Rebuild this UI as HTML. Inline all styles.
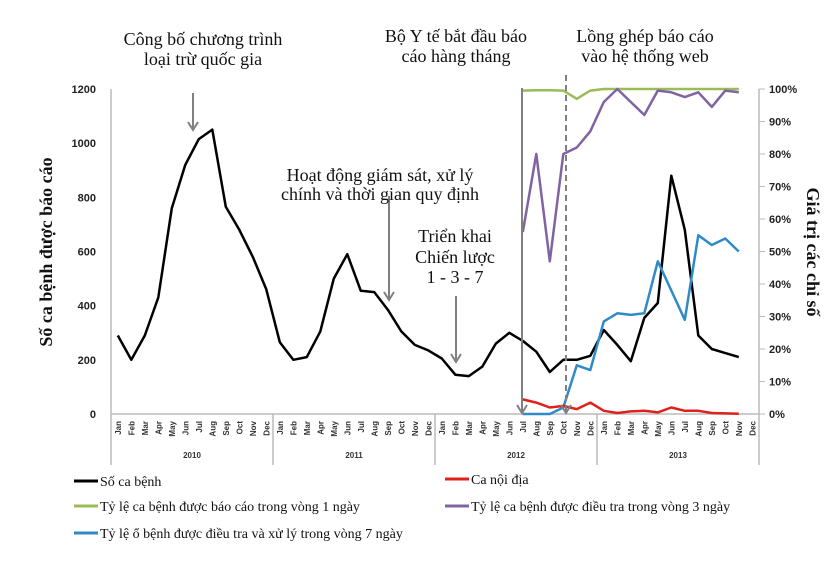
<!DOCTYPE html>
<html><head><meta charset="utf-8"><style>
body{margin:0;background:#fff;width:830px;height:563px;overflow:hidden}
svg{display:block}
.ann{font-family:"Liberation Serif",serif;font-size:18px;fill:#111}
.tk{font-family:"Liberation Sans",sans-serif;font-size:11px;font-weight:bold;fill:#222}
.mo{font-family:"Liberation Sans",sans-serif;font-size:8px;font-weight:bold;fill:#333}
.lg{font-family:"Liberation Serif",serif;font-size:14px;fill:#111}
</style></head><body>
<svg id="s" width="830" height="563" xmlns="http://www.w3.org/2000/svg">
<defs><marker id="ah" markerWidth="12" markerHeight="12" refX="9" refY="6" orient="auto" markerUnits="userSpaceOnUse"><path d="M1,1 L9,6 L1,11" fill="none" stroke="#808080" stroke-width="2"/></marker></defs>
<g id="g"></g>
<text class="ann" x="203" y="45" text-anchor="middle">Công bố chương trình</text>
<text class="ann" x="203" y="65" text-anchor="middle">loại trừ quốc gia</text>
<text class="ann" x="456" y="42" text-anchor="middle">Bộ Y tế bắt đầu báo</text>
<text class="ann" x="456" y="62" text-anchor="middle">cáo hàng tháng</text>
<text class="ann" x="645" y="42" text-anchor="middle">Lồng ghép báo cáo</text>
<text class="ann" x="645" y="62" text-anchor="middle">vào hệ thống web</text>
<text class="ann" x="380" y="181" text-anchor="middle">Hoạt động giám sát, xử lý</text>
<text class="ann" x="380" y="200" text-anchor="middle">chính và thời gian quy định</text>
<text class="ann" x="455" y="242" text-anchor="middle">Triển khai</text>
<text class="ann" x="455" y="263" text-anchor="middle">Chiến lược</text>
<text class="ann" x="455" y="283" text-anchor="middle">1 - 3 - 7</text>
<text class="ann" transform="translate(52,252) rotate(-90)" text-anchor="middle" font-weight="bold" font-size="17">Số ca bệnh được báo cáo</text>
<text class="ann" transform="translate(807,252) rotate(90)" text-anchor="middle" font-weight="bold" font-size="17">Giá trị các chỉ số</text>
</svg>
<script>
var g=document.getElementById('g'),ns='http://www.w3.org/2000/svg';
function el(t,a,txt){var e=document.createElementNS(ns,t);for(var k in a)e.setAttribute(k,a[k]);if(txt!=null)e.textContent=txt;g.appendChild(e);return e;}
var x0=111,mw=13.5,yb=414,yt=89;
function X(i){return x0+mw*(i+0.5);}
function YL(v){return yb-(yb-yt)*v/1200;}
function YR(p){return yb-(yb-yt)*p/100;}
el('line',{x1:x0,y1:yt,x2:x0,y2:yb,stroke:'#bbb','stroke-width':1.5});
el('line',{x1:759,y1:yt,x2:759,y2:yb,stroke:'#bbb','stroke-width':1.5});
el('line',{x1:x0,y1:yb,x2:759,y2:yb,stroke:'#bbb','stroke-width':1.5});
for(var v=0;v<=1200;v+=200){el('text',{class:'tk',x:96,y:YL(v)+4,'text-anchor':'end'},v);}
for(var p=0;p<=100;p+=10){el('line',{x1:759,y1:YR(p),x2:765,y2:YR(p),stroke:'#bbb'});el('text',{class:'tk',x:769,y:YR(p)+4},p+'%');}
var m=['Jan','Feb','Mar','Apr','May','Jun','Jul','Aug','Sep','Oct','Nov','Dec'];
for(var i=0;i<48;i++){el('text',{class:'mo',transform:'translate('+(X(i)+3)+',421) rotate(-90)','text-anchor':'end'},m[i%12]);}
for(var y=0;y<=4;y++){var xx=x0+162*y;el('line',{x1:xx,y1:yb,x2:xx,y2:465,stroke:'#bbb','stroke-width':1.5});if(y<4)el('text',{class:'mo',x:xx+81,y:458,'text-anchor':'middle','font-size':'9'},2010+y);}
function line(vals,start,f,col,w){var pts=[];for(var i=0;i<vals.length;i++)pts.push(X(start+i).toFixed(1)+','+f(vals[i]).toFixed(1));el('polyline',{points:pts.join(' '),fill:'none',stroke:col,'stroke-width':w,'stroke-linejoin':'round'});}
line([290,200,290,430,760,920,1015,1050,765,680,580,460,265,200,210,305,500,590,455,450,385,305,255,235,205,145,140,175,260,300,270,230,155,200,200,215,310,255,195,355,410,880,680,290,240,225,210],0,YL,'#000',2.5);
line([99.5,99.6,99.6,99.5,97,99.5,100,100,100,100,100,100,100,100,100,100,100],30,YR,'#9bbb59',2.5);
line([56,80,47,80,82,87,96,100,96,92,99.5,99,97.5,99,94.5,99.5,99],30,YR,'#8064a2',2.5);
line([0,0,0,2,15,13.5,28.5,31,30.5,31,47,38,29,55,52,54,50],30,YR,'#2e8bc8',2.5);
line([4.5,3.5,2,2.5,1.5,3.5,1,0.3,0.8,1,0.5,2,1,1,0.3,0.2,0.1],30,YR,'#e0201a',2.5);
el('line',{x1:522,y1:88,x2:522,y2:413,stroke:'#808080','stroke-width':2,'marker-end':'url(#ah)'});
el('line',{x1:566,y1:75,x2:566,y2:413,stroke:'#808080','stroke-width':2,'stroke-dasharray':'6,4','marker-end':'url(#ah)'});
el('line',{x1:193,y1:93,x2:193,y2:130,stroke:'#808080','stroke-width':2,'marker-end':'url(#ah)'});
el('line',{x1:389,y1:196,x2:389,y2:300,stroke:'#808080','stroke-width':2,'marker-end':'url(#ah)'});
el('line',{x1:456,y1:296,x2:456,y2:362,stroke:'#808080','stroke-width':2,'marker-end':'url(#ah)'});
function lg(x,y,col,t){el('line',{x1:x,y1:y,x2:x+24,y2:y,stroke:col,'stroke-width':3});el('text',{class:'lg',x:x+26,y:y+5},t);}
lg(74,481,'#000','Số ca bệnh');
lg(74,506,'#9bbb59','Tỷ lệ ca bệnh được báo cáo trong vòng 1 ngày');
lg(74,533,'#2e8bc8','Tỷ lệ ổ bệnh được điều tra và xử lý trong vòng 7 ngày');
lg(445,479,'#e0201a','Ca nội địa');
lg(445,506,'#8064a2','Tỷ lệ ca bệnh được điều tra trong vòng 3 ngày');
</script>
</body></html>
